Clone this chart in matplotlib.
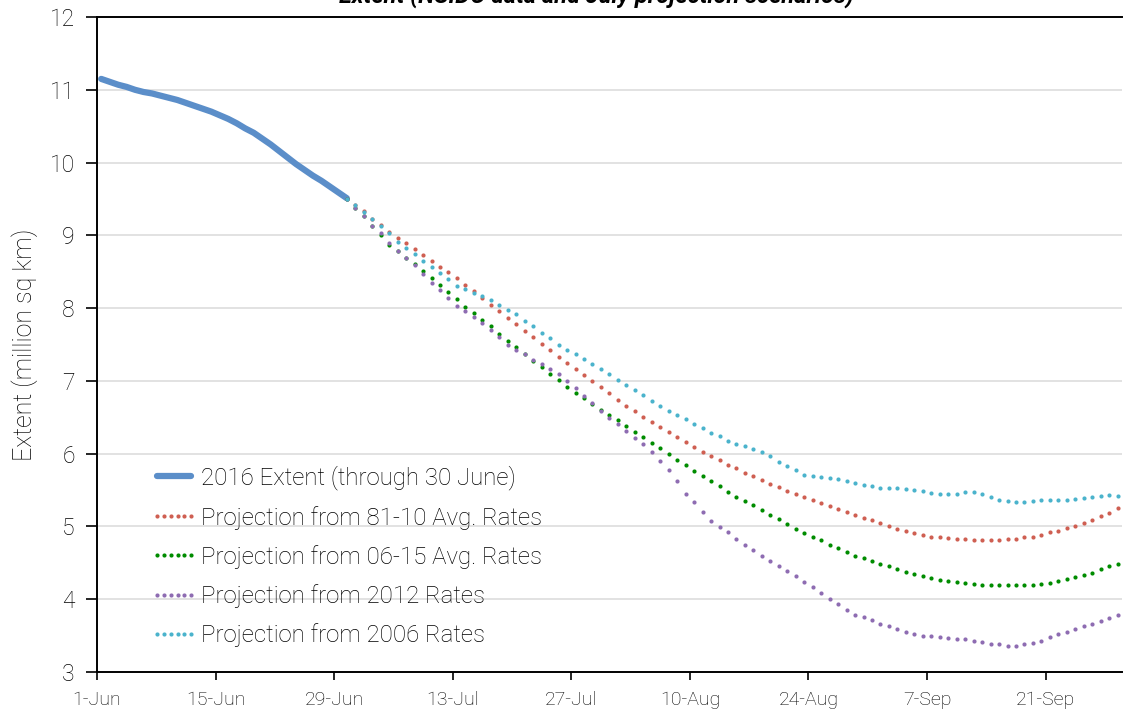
import numpy as np
import matplotlib
matplotlib.use('Agg')
import matplotlib.pyplot as plt

# Du lieu: chi so ngay tinh tu 1-Jun (0) den 29-Sep (120)
tick_days = [0, 14, 28, 42, 56, 70, 84, 98, 112]
tick_labels = ['1-Jun', '15-Jun', '29-Jun', '13-Jul', '27-Jul', '10-Aug', '24-Aug', '7-Sep', '21-Sep']

# 2016 extent, 1-Jun .. 30-Jun
extent_2016 = [11.15, 11.11, 11.07, 11.04, 11.00, 10.97, 10.95, 10.92, 10.89, 10.86,
               10.82, 10.78, 10.74, 10.70, 10.65, 10.60, 10.54, 10.47, 10.41, 10.33,
               10.25, 10.16, 10.07, 9.98, 9.90, 9.82, 9.75, 9.67, 9.59, 9.51]

# projections, 30-Jun .. 29-Sep
proj_8110 = [9.50, 9.42, 9.33, 9.23, 9.14, 9.05, 8.96, 8.89, 8.81, 8.73,
             8.65, 8.57, 8.49, 8.41, 8.32, 8.24, 8.14, 8.04, 7.96, 7.87,
             7.78, 7.69, 7.60, 7.51, 7.43, 7.33, 7.25, 7.16, 7.08, 7.00,
             6.91, 6.83, 6.74, 6.66, 6.58, 6.51, 6.44, 6.36, 6.30, 6.23,
             6.16, 6.09, 6.03, 5.97, 5.91, 5.85, 5.80, 5.74, 5.69, 5.64,
             5.59, 5.54, 5.49, 5.45, 5.41, 5.37, 5.32, 5.28, 5.24, 5.20,
             5.16, 5.12, 5.09, 5.05, 5.00, 4.97, 4.94, 4.91, 4.88, 4.86,
             4.85, 4.84, 4.83, 4.83, 4.82, 4.82, 4.82, 4.82, 4.83, 4.83,
             4.85, 4.86, 4.88, 4.92, 4.94, 4.98, 5.01, 5.05, 5.09, 5.14,
             5.19, 5.25]
proj_0615 = [9.50, 9.38, 9.26, 9.13, 9.00, 8.87, 8.78, 8.69, 8.60, 8.51,
             8.41, 8.32, 8.22, 8.12, 8.02, 7.93, 7.84, 7.75, 7.65, 7.55,
             7.46, 7.37, 7.28, 7.19, 7.10, 7.01, 6.92, 6.84, 6.76, 6.68,
             6.60, 6.53, 6.46, 6.38, 6.30, 6.23, 6.15, 6.08, 6.00, 5.92,
             5.84, 5.76, 5.69, 5.62, 5.55, 5.48, 5.41, 5.35, 5.29, 5.22,
             5.16, 5.10, 5.04, 4.97, 4.91, 4.86, 4.81, 4.74, 4.70, 4.65,
             4.60, 4.56, 4.52, 4.48, 4.45, 4.41, 4.38, 4.35, 4.32, 4.29,
             4.27, 4.25, 4.24, 4.22, 4.21, 4.20, 4.20, 4.19, 4.19, 4.19,
             4.19, 4.20, 4.21, 4.23, 4.25, 4.28, 4.30, 4.33, 4.36, 4.41,
             4.45, 4.49]
proj_2012 = [9.50, 9.38, 9.26, 9.13, 9.03, 8.89, 8.78, 8.69, 8.59, 8.47,
             8.35, 8.25, 8.14, 8.03, 7.96, 7.88, 7.80, 7.70, 7.60, 7.50,
             7.43, 7.37, 7.29, 7.23, 7.16, 7.10, 7.00, 6.90, 6.79, 6.69,
             6.58, 6.49, 6.41, 6.31, 6.22, 6.13, 6.02, 5.90, 5.77, 5.62,
             5.45, 5.33, 5.20, 5.08, 4.99, 4.92, 4.83, 4.75, 4.67, 4.60,
             4.53, 4.46, 4.39, 4.32, 4.24, 4.17, 4.08, 4.01, 3.93, 3.85,
             3.79, 3.75, 3.71, 3.66, 3.63, 3.59, 3.55, 3.52, 3.50, 3.49,
             3.48, 3.47, 3.46, 3.46, 3.43, 3.41, 3.39, 3.38, 3.36, 3.36,
             3.38, 3.40, 3.43, 3.48, 3.52, 3.55, 3.59, 3.63, 3.66, 3.70,
             3.74, 3.79]
proj_2006 = [9.50, 9.42, 9.32, 9.22, 9.13, 9.03, 8.91, 8.83, 8.75, 8.65,
             8.56, 8.48, 8.40, 8.31, 8.26, 8.21, 8.16, 8.11, 8.05, 7.98,
             7.92, 7.83, 7.76, 7.66, 7.59, 7.50, 7.42, 7.37, 7.30, 7.23,
             7.16, 7.10, 7.01, 6.94, 6.87, 6.80, 6.73, 6.66, 6.58, 6.53,
             6.47, 6.41, 6.35, 6.29, 6.24, 6.18, 6.14, 6.10, 6.07, 6.03,
             5.97, 5.89, 5.83, 5.77, 5.71, 5.69, 5.68, 5.66, 5.65, 5.62,
             5.60, 5.57, 5.55, 5.53, 5.53, 5.53, 5.52, 5.50, 5.49, 5.46,
             5.45, 5.45, 5.45, 5.47, 5.47, 5.44, 5.41, 5.37, 5.35, 5.33,
             5.33, 5.35, 5.36, 5.36, 5.36, 5.37, 5.38, 5.39, 5.40, 5.42,
             5.43, 5.42]

plt.rcParams['font.family'] = ['Roboto', 'DejaVu Sans']
plt.rcParams['font.weight'] = 'light'
txt_col = 'black'

fig = plt.figure(figsize=(11.25, 7.1), dpi=100)
ax = fig.add_axes([0.0862, 0.0535, 0.911, 0.9225])

# diem nam giua cac o ngay (kieu truc danh muc cua Excel)
x_obs = np.arange(len(extent_2016)) + 0.5
x_proj = np.arange(29, 29 + len(proj_8110)) + 0.5

ax.plot(x_obs, extent_2016, color='#5b8ec9', lw=4.5, solid_capstyle='round',
        label='2016 Extent (through 30 June)', zorder=3)

series = [
    (proj_8110, '#cf5f52', 'Projection from 81-10 Avg. Rates'),
    (proj_0615, '#008c00', 'Projection from 06-15 Avg. Rates'),
    (proj_2012, '#8e6cb2', 'Projection from 2012 Rates'),
    (proj_2006, '#4bb3cc', 'Projection from 2006 Rates'),
]
for vals, col, lab in series:
    ax.plot(x_proj, vals, linestyle='none', marker='o', ms=3.0, mew=0,
            color=col, label=lab, zorder=4)

ax.set_xlim(0, 121)
ax.set_ylim(3, 12)
ax.set_yticks(range(3, 13))
ax.set_xticks(tick_days)
ax.set_xticklabels(tick_labels, fontsize=14, color=txt_col)
ax.tick_params(axis='y', labelsize=16.5, colors='black', labelcolor=txt_col,
               direction='out', length=8, width=1.2, pad=8)
ax.tick_params(axis='x', direction='out', length=6, width=1.2, pad=8)
ax.set_ylabel('Extent (million sq km)', fontsize=18, color=txt_col,
              fontweight='light', labelpad=8)

ax.yaxis.grid(True, color='#dddddd', lw=1.2)
ax.set_axisbelow(True)
ax.spines['right'].set_visible(False)
for s in ['left', 'bottom', 'top']:
    ax.spines[s].set_linewidth(1.4)
    ax.spines[s].set_color('black')

leg = ax.legend(loc='upper left', bbox_to_anchor=(0.052, 0.315), frameon=False,
                fontsize=17.3, numpoints=6, handlelength=2.0, handletextpad=0.12,
                labelspacing=0.64, borderpad=0, borderaxespad=0)
for t in leg.get_texts():
    t.set_color(txt_col)

# tieu de bi cat o mep tren cua hinh (chi thay phan duoi)
fig.text(0.53, 0.997, 'Extent (NSIDC data and July projection scenarios)',
         ha='center', va='baseline', fontsize=17, fontweight='bold', style='italic')

fig.savefig('out.png', dpi=100)
